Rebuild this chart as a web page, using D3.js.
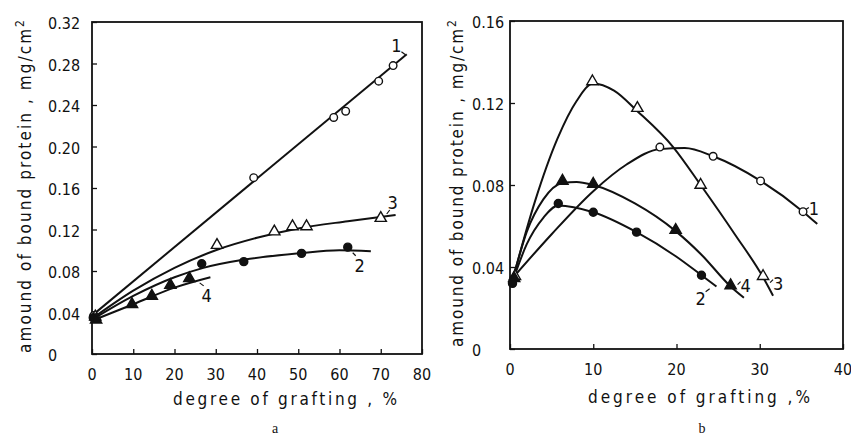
<!DOCTYPE html>
<html>
<head>
<meta charset="utf-8">
<script src="https://cdn.jsdelivr.net/npm/d3@7"></script>
<style>
  body { margin: 0; background: #fff; }
  svg { display: block; }
  text { font-family: "DejaVu Sans Condensed", "DejaVu Sans", sans-serif; fill: #111; }
</style>
</head>
<body>
<div id="chart"></div>
<script>
// tick values
const xTicksA = [0, 10, 20, 30, 40, 50, 60, 70, 80];
const yTicksA = [0, 0.04, 0.08, 0.12, 0.16, 0.20, 0.24, 0.28, 0.32];
const xTicksB = [0, 10, 20, 30, 40];
const yTicksB = [0, 0.04, 0.08, 0.12, 0.16];

// panel a: measured points (degree of grafting %, protein mg/cm2)
const a1x = [0.4, 39.2, 58.6, 61.5, 69.5, 73];
const a1y = [0.037, 0.170, 0.228, 0.234, 0.263, 0.278];
const a3x = [0.8, 30.3, 44.2, 48.6, 52, 70];
const a3y = [0.035, 0.104, 0.117, 0.122, 0.122, 0.130];
const a2x = [0.3, 26.6, 36.8, 50.8, 62];
const a2y = [0.035, 0.087, 0.089, 0.097, 0.103];
const a4x = [1, 9.7, 14.5, 19, 23.6];
const a4y = [0.032, 0.047, 0.055, 0.0655, 0.072];

// panel a: fitted curves
const a1cx = [0, 76.3];
const a1cy = [0.037, 0.289];
const a3cx = [0, 10, 20, 30, 40, 50, 62, 73.6];
const a3cy = [0.034, 0.061, 0.083, 0.100, 0.112, 0.121, 0.128, 0.134];
const a2cx = [0, 10, 20, 27, 37, 50, 60, 67.6];
const a2cy = [0.033, 0.056, 0.074, 0.083, 0.091, 0.097, 0.100, 0.099];
const a4cx = [0, 10, 20, 28.7];
const a4cy = [0.032, 0.048, 0.064, 0.074];

// panel b: measured points
const b1x = [0.4, 18, 24.4, 30.1, 35.2];
const b1y = [0.034, 0.0985, 0.094, 0.082, 0.067];
const b3x = [0.6, 9.9, 15.3, 22.9, 30.4];
const b3y = [0.035, 0.130, 0.117, 0.0795, 0.035];
const b4x = [0.5, 6.3, 10, 19.9, 26.5];
const b4y = [0.034, 0.0815, 0.080, 0.0575, 0.0305];
const b2x = [0.3, 5.8, 10, 15.2, 23];
const b2y = [0.032, 0.071, 0.0667, 0.057, 0.036];

// panel b: fitted curves
const b1cx = [0.4, 5, 10, 14, 18, 21, 24.4, 30.1, 35.2, 36.9];
const b1cy = [0.035, 0.056, 0.077, 0.090, 0.0975, 0.098, 0.094, 0.082, 0.067, 0.061];
const b3cx = [0.4, 3, 5.7, 8, 10, 12.5, 15.3, 19.6, 22.9, 27, 30.4, 31.6];
const b3cy = [0.035, 0.072, 0.1026, 0.121, 0.1295, 0.126, 0.116, 0.0985, 0.080, 0.056, 0.035, 0.026];
const b4cx = [0.4, 2, 4, 6.3, 8, 10, 15, 19.9, 23, 26.5, 28.1];
const b4cy = [0.035, 0.057, 0.073, 0.081, 0.0815, 0.080, 0.071, 0.0575, 0.046, 0.0305, 0.025];
const b2cx = [0.4, 2, 4, 5.8, 10, 15.2, 20, 23, 24.8];
const b2cy = [0.034, 0.051, 0.064, 0.070, 0.0667, 0.057, 0.045, 0.036, 0.0305];

// curve numbers
const labelsA = ['1', '3', '2', '4'];
const labelsAx = [73.8, 72.9, 64.9, 27.8];
const labelsAy = [0.298, 0.1465, 0.086, 0.057];
const labelsB = ['1', '3', '4', '2'];
const labelsBx = [36.5, 32.2, 28.3, 22.9];
const labelsBy = [0.069, 0.0324, 0.0314, 0.025];

const zip = (xs, ys) => xs.map((x, i) => [x, ys[i]]);

let svg = d3.select('#chart').append('svg')
  .attr('width', 851)
  .attr('height', 435);

function drawPanel(p) {
  let x = d3.scaleLinear().domain(p.xDomain).range(p.xRange);
  let y = d3.scaleLinear().domain(p.yDomain).range(p.yRange);
  let g = svg.append('g');

  // frame
  g.append('rect')
    .attr('x', p.xRange[0]).attr('y', p.yRange[1])
    .attr('width', p.xRange[1] - p.xRange[0])
    .attr('height', p.yRange[0] - p.yRange[1])
    .attr('fill', 'none').attr('stroke', '#111').attr('stroke-width', 1.8);

  // inward ticks
  let xAxis = d3.axisTop(x).tickValues(p.xTicks).tickSize(5).tickFormat('');
  g.append('g').attr('transform', 'translate(0,' + p.yRange[0] + ')').call(xAxis)
    .call(s => s.select('.domain').remove())
    .selectAll('line').attr('stroke', '#111').attr('stroke-width', 1.3);
  let yAxis = d3.axisRight(y).tickValues(p.yTicks).tickSize(5).tickFormat('');
  g.append('g').attr('transform', 'translate(' + p.xRange[0] + ',0)').call(yAxis)
    .call(s => s.select('.domain').remove())
    .selectAll('line').attr('stroke', '#111').attr('stroke-width', 1.3);

  // tick labels
  g.selectAll('.xl').data(p.xTicks).enter().append('text')
    .attr('x', d => x(d)).attr('y', p.xLabelY)
    .attr('text-anchor', 'middle').attr('font-size', 16)
    .text(d => d);
  g.selectAll('.yl').data(p.yTicks).enter().append('text')
    .attr('x', p.yLabelX).attr('y', d => y(d) + 7)
    .attr('font-size', 16)
    .text(d => d === 0 ? '0' : d3.format('.2f')(d));

  // axis titles
  g.append('text')
    .attr('x', p.titleX[0]).attr('y', p.titleY)
    .attr('font-size', 17)
    .attr('textLength', p.titleX[1] - p.titleX[0]).attr('lengthAdjust', 'spacing')
    .text(p.xTitle);
  let yt = g.append('text')
    .attr('transform', 'translate(' + p.yTitleX + ',' + p.yTitleSpan[1] + ') rotate(-90)')
    .attr('font-size', 17)
    .attr('textLength', p.yTitleSpan[1] - p.yTitleSpan[0]).attr('lengthAdjust', 'spacing');
  yt.append('tspan').text('amound  of  bound  protein , mg/cm');
  yt.append('tspan').attr('dy', -7).attr('font-size', 12).text('2');

  g.append('text')
    .attr('x', p.letterX).attr('y', 433)
    .attr('text-anchor', 'middle')
    .style('font-family', '"Liberation Serif", serif')
    .attr('font-size', 14)
    .text(p.letter);

  // curves
  let line = d3.line()
    .x(d => x(d[0])).y(d => y(d[1]))
    .curve(d3.curveMonotoneX);
  p.curves.forEach(c => {
    g.append('path').attr('d', line(c))
      .attr('fill', 'none').attr('stroke', '#111').attr('stroke-width', 2);
  });

  // markers
  p.series.forEach(s => {
    let filled = s.filled;
    if (s.shape === 'circle') {
      g.selectAll(null).data(s.pts).enter().append('circle')
        .attr('cx', d => x(d[0])).attr('cy', d => y(d[1]))
        .attr('r', filled ? 4 : 3.8)
        .attr('fill', filled ? '#111' : '#fff')
        .attr('stroke', '#111').attr('stroke-width', 1.4);
    } else {
      g.selectAll(null).data(s.pts).enter().append('path')
        .attr('d', d3.symbol(d3.symbolTriangle, 55))
        .attr('transform', d => 'translate(' + x(d[0]) + ',' + (y(d[1]) - 1) + ')')
        .attr('fill', filled ? '#111' : '#fff')
        .attr('stroke', '#111').attr('stroke-width', 1.4);
    }
  });

  // curve numbers with small leader strokes
  p.labels.forEach((t, i) => {
    let lx = x(p.labelsX[i]), ly = y(p.labelsY[i]);
    g.append('text').attr('x', lx).attr('y', ly + 7)
      .attr('text-anchor', 'middle').attr('font-size', 18).text(t);
  });
  p.leaders.forEach(l => {
    g.append('line')
      .attr('x1', x(l[0]) + l[2]).attr('y1', y(l[1]) + l[3])
      .attr('x2', x(l[0]) + l[4]).attr('y2', y(l[1]) + l[5])
      .attr('stroke', '#111').attr('stroke-width', 1.2);
  });
}

drawPanel({
  xDomain: [0, 80], xRange: [92, 422],
  yDomain: [0, 0.32], yRange: [354, 22],
  xTicks: xTicksA, yTicks: yTicksA,
  xLabelY: 380, yLabelX: 48,
  xTitle: 'degree  of  grafting , %', titleX: [173, 397], titleY: 405,
  yTitleX: 31, yTitleSpan: [20, 353],
  letter: 'a', letterX: 275,
  curves: [zip(a1cx, a1cy), zip(a3cx, a3cy), zip(a2cx, a2cy), zip(a4cx, a4cy)],
  series: [
    { pts: zip(a1x, a1y), shape: 'circle', filled: false },
    { pts: zip(a3x, a3y), shape: 'tri', filled: false },
    { pts: zip(a2x, a2y), shape: 'circle', filled: true },
    { pts: zip(a4x, a4y), shape: 'tri', filled: true }
  ],
  labels: labelsA, labelsX: labelsAx, labelsY: labelsAy,
  leaders: [[73.8, 0.298, 5, 7, 9, 10], [72.9, 0.1465, -3, 8, -6, 12], [64.9, 0.086, -4, -9, -7, -12], [27.8, 0.057, -3, -9, -7, -12]]
});

drawPanel({
  xDomain: [0, 40], xRange: [510, 843],
  yDomain: [0, 0.16], yRange: [349, 21],
  xTicks: xTicksB, yTicks: yTicksB,
  xLabelY: 375, yLabelX: 472,
  xTitle: 'degree  of  grafting ,%', titleX: [588, 810], titleY: 403,
  yTitleX: 463, yTitleSpan: [20, 347],
  letter: 'b', letterX: 702,
  curves: [zip(b1cx, b1cy), zip(b3cx, b3cy), zip(b4cx, b4cy), zip(b2cx, b2cy)],
  series: [
    { pts: zip(b1x, b1y), shape: 'circle', filled: false },
    { pts: zip(b3x, b3y), shape: 'tri', filled: false },
    { pts: zip(b4x, b4y), shape: 'tri', filled: true },
    { pts: zip(b2x, b2y), shape: 'circle', filled: true }
  ],
  labels: labelsB, labelsX: labelsBx, labelsY: labelsBy,
  leaders: [[36.5, 0.069, -8, 2, -5, 0], [32.2, 0.0324, -8, 0, -5, -3], [28.3, 0.0314, -8, 0, -5, -3], [22.9, 0.025, 5, -6, 9, -9]]
});
</script>
</body>
</html>
